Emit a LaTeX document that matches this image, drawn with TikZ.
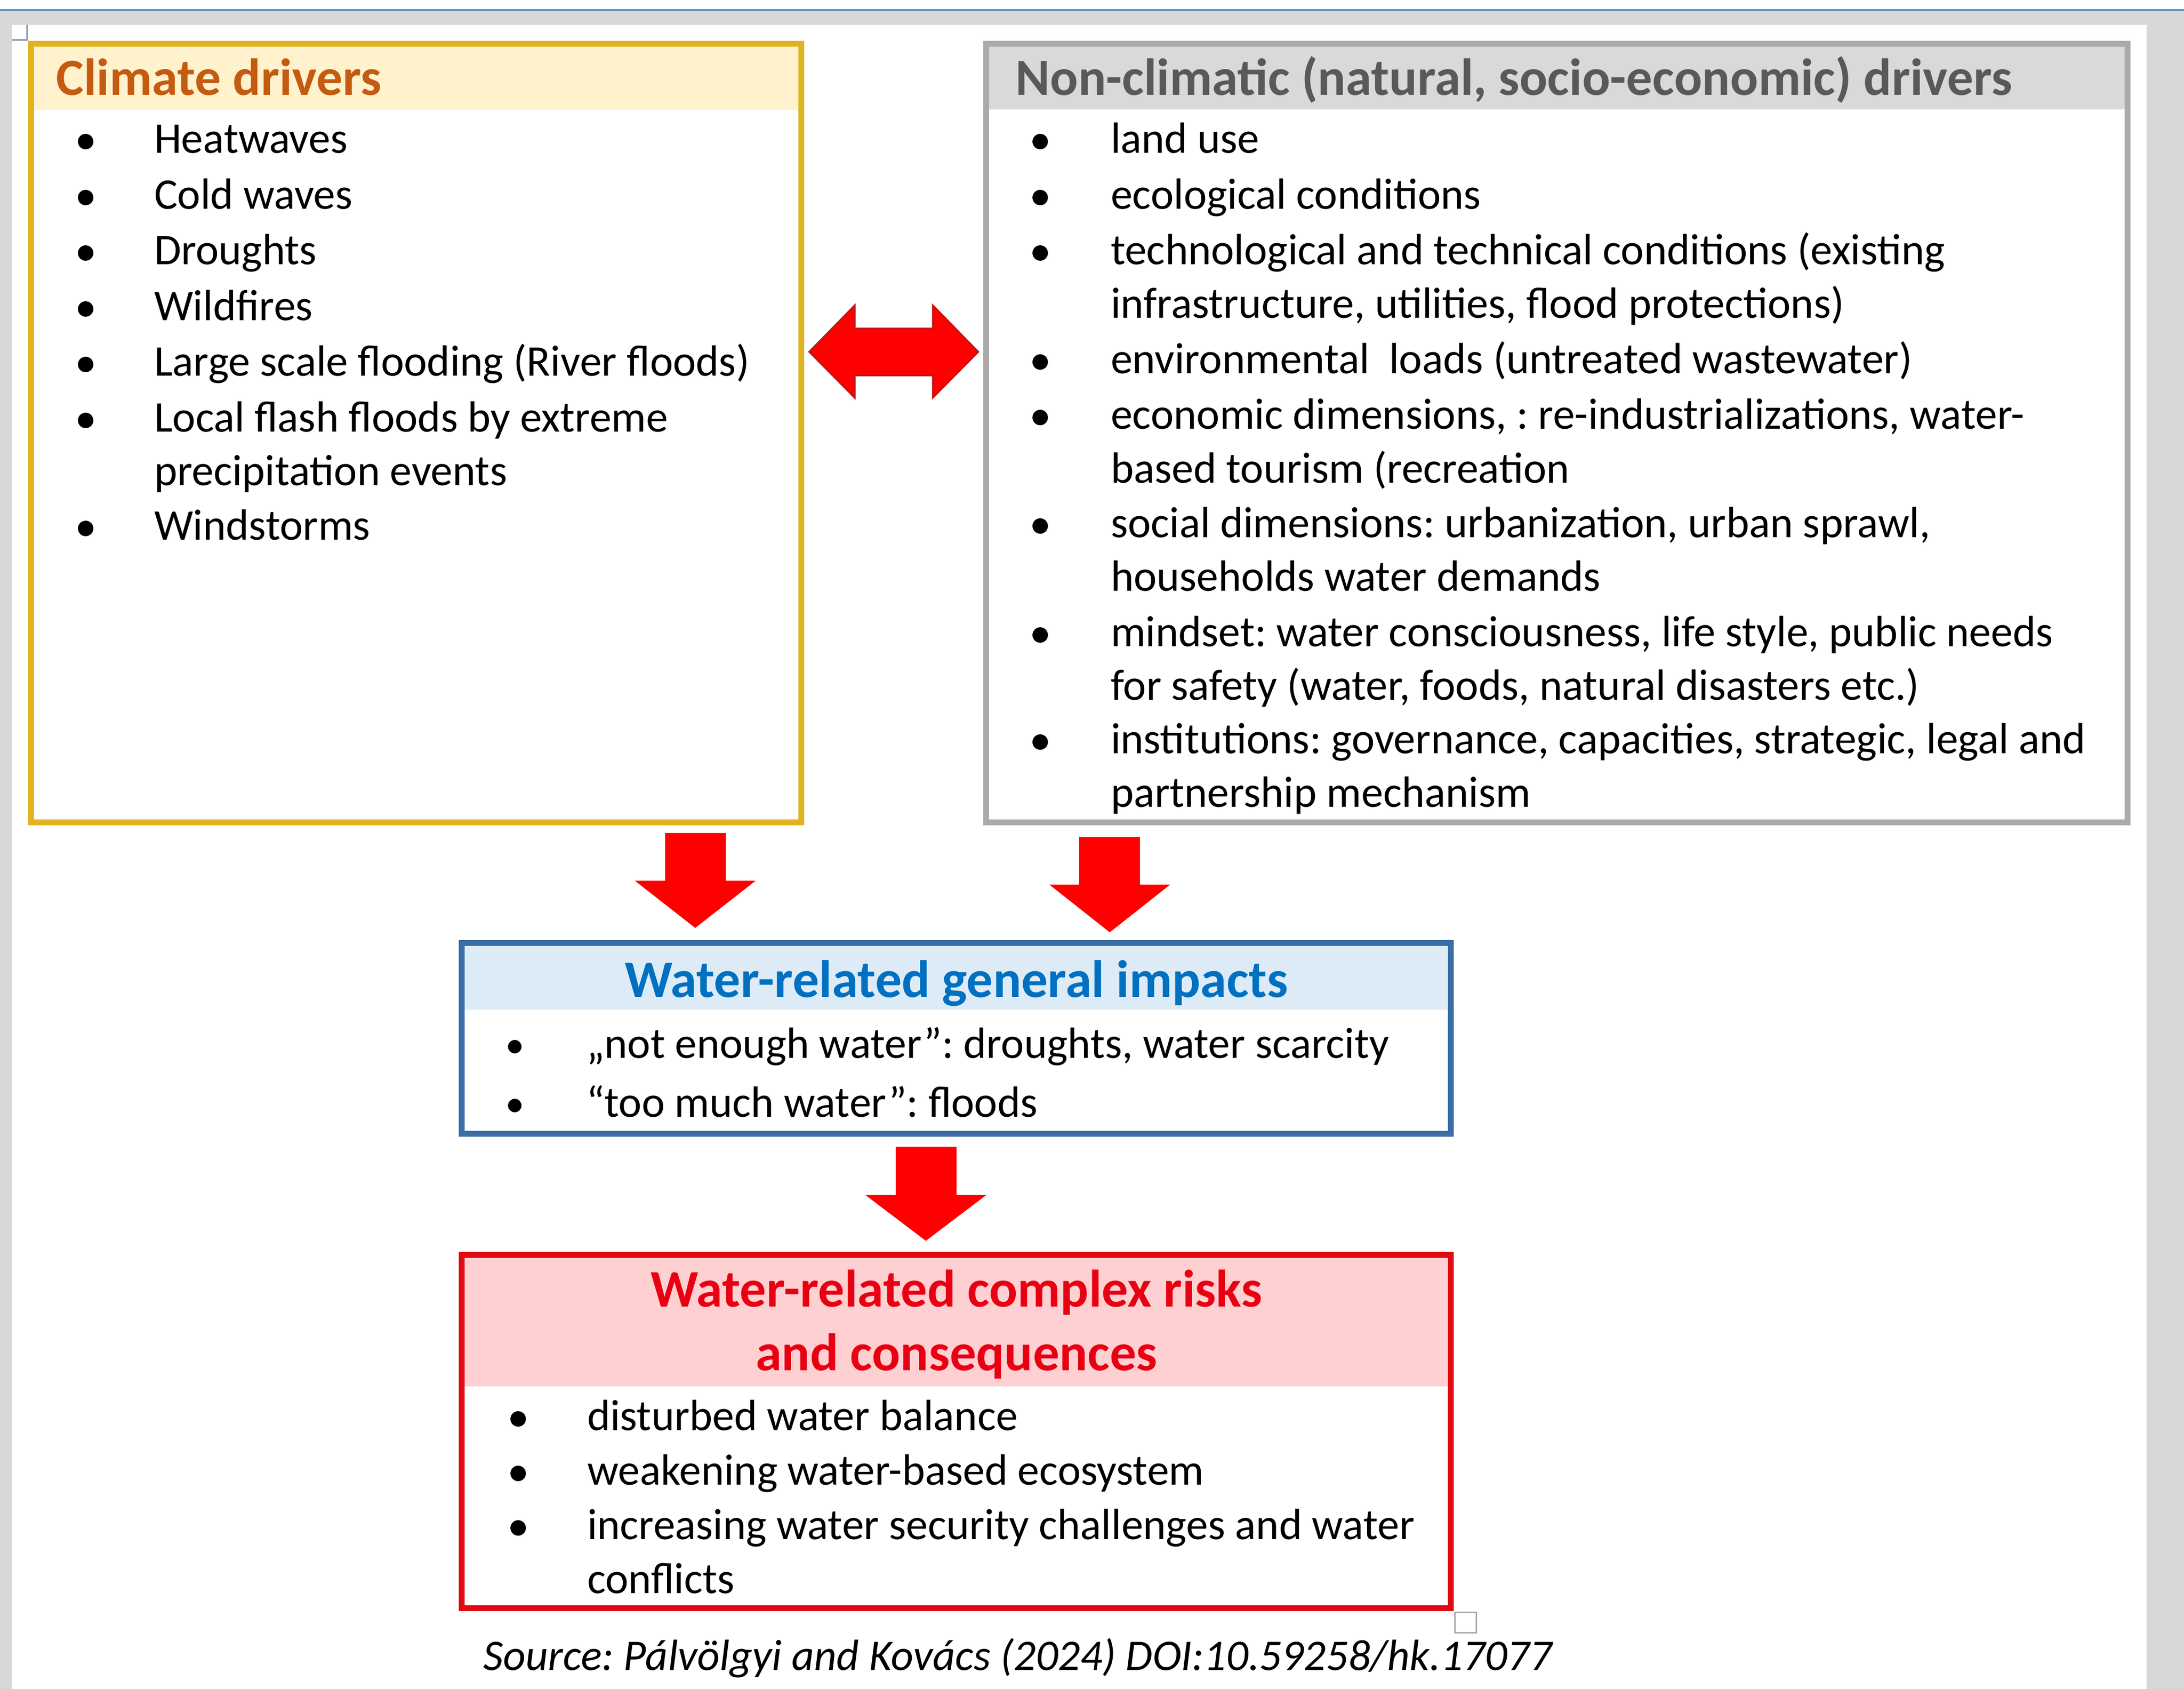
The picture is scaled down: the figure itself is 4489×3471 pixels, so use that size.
\documentclass[tikz,border=0pt]{standalone}
\usepackage{fontspec}
\setmainfont{Carlito}
\frenchspacing
\definecolor{topline}{RGB}{74,126,187}
\definecolor{pgrey}{RGB}{216,216,216}
\definecolor{yborder}{RGB}{224,180,30}
\definecolor{yfill}{RGB}{255,242,204}
\definecolor{ytext}{RGB}{197,90,17}
\definecolor{gborder}{RGB}{170,170,170}
\definecolor{gfill}{RGB}{217,217,217}
\definecolor{gtext}{RGB}{89,89,89}
\definecolor{bborder}{RGB}{58,110,165}
\definecolor{bfill}{RGB}{221,235,247}
\definecolor{btext}{RGB}{0,112,192}
\definecolor{rborder}{RGB}{225,10,20}
\definecolor{rfill}{RGB}{255,208,210}
\definecolor{rtext}{RGB}{232,0,18}
\definecolor{arrowred}{RGB}{255,0,0}
\definecolor{arrowedge}{RGB}{190,20,20}
\definecolor{markgrey}{RGB}{160,160,170}
\newlength\fitlen
\newcommand\fitsize[3]{%
  \settowidth{\fitlen}{\normalfont\frenchspacing\fontsize{10}{12}\selectfont #3}%
  \pgfmathsetmacro#1{#2*1.2285/\the\fitlen}%
  \global\let#1#1}
\AtBeginDocument{%
  \frenchspacing
  \fitsize\bsz{2004}{institutions: governance, capacities, strategic, legal and}%
  \fitsize\hsz{2048}{\bfseries Non-climatic (natural, socio-economic) drivers}%
  \fitsize\bhsz{1363}{\bfseries Water-related general impacts}%
  \fitsize\rhsz{1257}{\bfseries Water-related complex risks}%
  \fitsize\ssz{2196}{\itshape Source: Pálvölgyi and Kovács (2024) DOI:10.59258/hk.17077}%
}
\tikzset{
  txt/.style={anchor=base west, inner sep=0pt, outer sep=0pt, font=\fontsize{\bsz}{\bsz}\selectfont\frenchspacing},
  dot/.style={circle, fill=black, inner sep=0pt, minimum size=3.9pt},
  smalldot/.style={circle, fill=black, inner sep=0pt, minimum size=3.4pt},
  tophead/.style={anchor=base west, inner sep=0pt, font=\fontsize{\hsz}{\hsz}\selectfont\bfseries\frenchspacing},
  bluehead/.style={anchor=base, inner sep=0pt, text=btext, font=\fontsize{\bhsz}{\bhsz}\selectfont\bfseries\frenchspacing},
  redhead/.style={anchor=base, inner sep=0pt, text=rtext, font=\fontsize{\rhsz}{\rhsz}\selectfont\bfseries\frenchspacing},
  srcstyle/.style={anchor=base west, inner sep=0pt, font=\fontsize{\ssz}{\ssz}\selectfont\itshape\frenchspacing},
  boxline/.style={line width=1.474pt},
  blockarrow/.style={fill=arrowred},
}
\newcommand\bitem[5]{%
  \node[dot] (#1b) at (#2,#4-24) {};
  \node[txt] (#1) at (#3,#4) {#5};}
\newcommand\bitemsmall[5]{%
  \node[smalldot] (#1b) at (#2,#4-24) {};
  \node[txt] (#1) at (#3,#4) {#5};}
\newcommand\contline[4]{\node[txt] (#1) at (#2,#3) {#4};}
\begin{document}
\begin{tikzpicture}[x=0.12285pt,y=-0.12285pt]
\useasboundingbox (0,0) rectangle (4489,3471);
% background
\fill[white] (0,0) rectangle (4489,3471);
\fill[pgrey] (0,21) rectangle (4489,3471);
\fill[white] (25,51) rectangle (4412,3471);
\draw[topline, line width=0.37pt] (0,21) -- (4489,21);
\draw[markgrey, line width=0.45pt] (25,82) -- (56,82) -- (56,51);
% header fills
\fill[yfill] (70,96) rectangle (1641,226);
\fill[gfill] (2033,96) rectangle (4367,225);
\fill[bfill] (955,1944) rectangle (2976,2075);
\fill[rfill] (955,2585) rectangle (2976,2849);
% box borders
\draw[boxline, yborder] (64,90) rectangle (1647,1690);
\draw[boxline, gborder] (2027,90) rectangle (4373,1690);
\draw[boxline, bborder] (949,1938) rectangle (2982,2330);
\draw[boxline, rborder] (949,2579) rectangle (2982,3305);
\draw[gborder, line width=0.37pt] (2990,3314) rectangle (3034,3356);
% arrows
\fill[blockarrow, draw=arrowedge, line width=0.37pt] (1663,723) -- (1757,627) -- (1757,675) -- (1917,675) -- (1917,627) -- (2011,723) -- (1917,818) -- (1917,772) -- (1757,772) -- (1757,818) -- cycle;
\fill[blockarrow] (1367,1712) -- (1492,1712) -- (1492,1810) -- (1553,1810) -- (1429,1907) -- (1305,1810) -- (1367,1810) -- cycle;
\fill[blockarrow] (2218,1720) -- (2343,1720) -- (2343,1818) -- (2405,1818) -- (2281,1916) -- (2157,1818) -- (2218,1818) -- cycle;
\fill[blockarrow] (1841,2357) -- (1966,2357) -- (1966,2456) -- (2027,2456) -- (1903,2550) -- (1779,2456) -- (1841,2456) -- cycle;
% climate drivers
\node[tophead, text=ytext] (cdh) at (114,196) {Climate drivers};
\bitem{c1}{176}{317}{315}{Heatwaves}
\bitem{c2}{176}{317}{430}{Cold waves}
\bitem{c3}{176}{317}{544}{Droughts}
\bitem{c4}{176}{317}{659}{Wildfires}
\bitem{c5}{176}{317}{773}{Large scale flooding (River floods)}
\bitem{c6}{176}{317}{888}{Local flash floods by extreme}
\contline{c6b}{317}{998}{precipitation events}
\bitem{c7}{176}{317}{1110}{Windstorms}
% non-climatic drivers
\node[tophead, text=gtext] (nch) at (2086,196) {Non-climatic (natural, socio-economic) drivers};
\bitem{n1}{2138}{2283}{315}{land use}
\bitem{n2}{2138}{2283}{430}{ecological conditions}
\bitem{n3}{2138}{2283}{544}{technological and technical conditions (existing}
\contline{n3b}{2283}{654}{infrastructure, utilities, flood protections)}
\bitem{n4}{2138}{2283}{768}{environmental~ loads (untreated wastewater)}
\bitem{n5}{2138}{2283}{882}{economic dimensions, : re-industrializations, water-}
\contline{n5b}{2283}{993}{based tourism (recreation}
\bitem{n6}{2138}{2283}{1105}{social dimensions: urbanization, urban sprawl,}
\contline{n6b}{2283}{1215}{households water demands}
\bitem{n7}{2138}{2283}{1329}{mindset: water consciousness, life style, public needs}
\contline{n7b}{2283}{1439}{for safety (water, foods, natural disasters etc.)}
\bitem{n8}{2138}{2283}{1549}{institutions: governance, capacities, strategic, legal and}
\contline{n8b}{2283}{1659}{partnership mechanism}
% general impacts
\node[bluehead] (wih) at (1966,2050) {Water-related general impacts};
\bitemsmall{w1}{1058}{1205}{2175}{„not enough water”: droughts, water scarcity}
\bitemsmall{w2}{1058}{1205}{2296}{“too much water”: floods}
% complex risks
\node[redhead] (wrh1) at (1966,2686) {Water-related complex risks};
\node[redhead] (wrh2) at (1966,2817) {and consequences};
\bitem{r1}{1065}{1207}{2940}{disturbed water balance}
\bitem{r2}{1065}{1207}{3052}{weakening water-based ecosystem}
\bitem{r3}{1065}{1207}{3164}{increasing water security challenges and water}
\contline{r3b}{1207}{3275}{conflicts}
% source
\node[srcstyle] (src) at (992,3433) {Source: Pálvölgyi and Kovács (2024) DOI:10.59258/hk.17077};
\end{tikzpicture}
\end{document}
